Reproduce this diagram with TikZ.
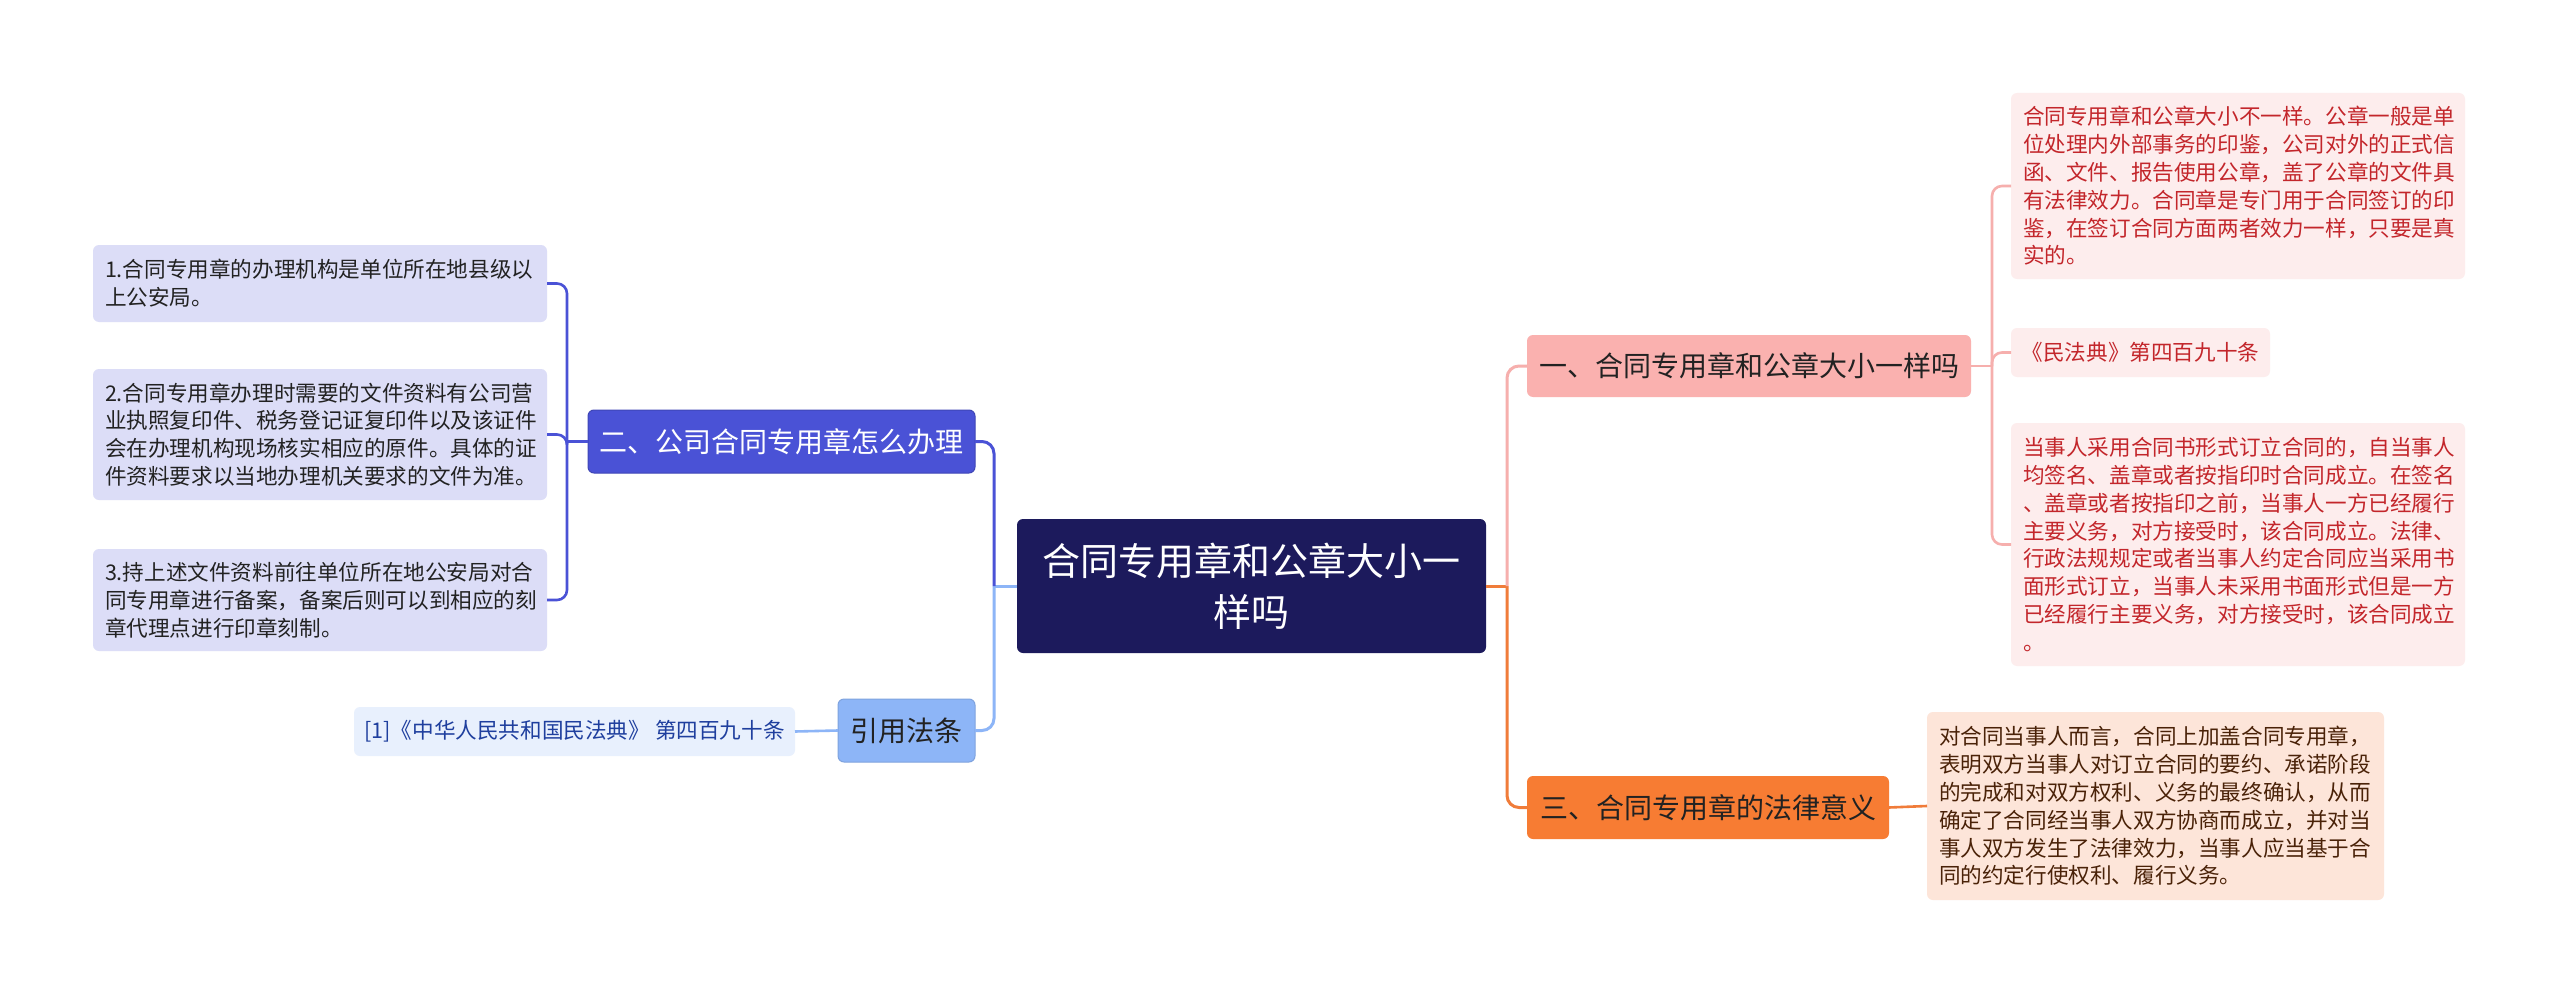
\documentclass[tikz,border=0pt]{standalone}
\usepackage{fontspec}
\setmainfont{Noto Sans CJK SC}
\definecolor{cnavy}{HTML}{1C1A5C}
\definecolor{cblue}{HTML}{4A52D6}
\definecolor{cblueleaf}{HTML}{DCDDF7}
\definecolor{clight}{HTML}{8DB5F7}
\definecolor{clightleaf}{HTML}{E8F0FD}
\definecolor{clighttext}{HTML}{1F3F9E}
\definecolor{cpink}{HTML}{FAB1AF}
\definecolor{cpinkline}{HTML}{F6AFAD}
\definecolor{cpinkleaf}{HTML}{FDEDED}
\definecolor{cpinktext}{HTML}{C3262B}
\definecolor{corange}{HTML}{F77C33}
\definecolor{corangeline}{HTML}{F07C3A}
\definecolor{corangeleaf}{HTML}{FDE5D9}
\definecolor{corangetext}{HTML}{4A2208}
\definecolor{cdark}{HTML}{222222}
\begin{document}
\begin{tikzpicture}[x=0.5pt,y=-0.5pt,
  box/.style={rounded corners=3pt, inner ysep=0pt, outer sep=0pt, anchor=west},
  leaf/.style={box, font=\fontsize{10.8pt}{13.9pt}\selectfont, inner xsep=6pt, align=left},
  leafc/.style={box, font=\fontsize{10.8pt}{13.9pt}\selectfont, inner xsep=0pt, align=center},
  mainnode/.style={box, font=\fontsize{14pt}{17pt}\selectfont, inner xsep=0pt, align=center},
  bline/.style={line width=1.5pt},
  lline/.style={line width=1.3pt, rounded corners=5pt},
]
\useasboundingbox (0,0) rectangle (2560,995);
\fill[white] (0,0) rectangle (2560,995);

% center
\node[box, fill=cnavy, text=white, align=center, inner xsep=0pt,
  font=\fontsize{19pt}{25.5pt}\selectfont, minimum width=234.5pt, minimum height=67pt]
  (c) at (1017,586) {合同专用章和公章大小一\\样吗};

% level 1
\node[mainnode, fill=cblue, draw=cblue!85!black, line width=0.5pt, text=white, minimum width=193.5pt, minimum height=31.5pt]
  (n2) at (588,441.5) {二、公司合同专用章怎么办理};
\node[mainnode, fill=clight, draw=clight!90!black, line width=0.5pt, text=cdark, minimum width=68.5pt, minimum height=31.5pt]
  (ref) at (838,730.5) {引用法条};
\node[mainnode, fill=cpink, text=cdark, minimum width=222pt, minimum height=31pt]
  (n1) at (1527,366) {一、合同专用章和公章大小一样吗};
\node[mainnode, fill=corange, text=cdark, minimum width=181pt, minimum height=31.5pt]
  (n3) at (1527,807.5) {三、合同专用章的法律意义};

% left leaves
\node[leaf, fill=cblueleaf, text=cdark, text width=215pt, minimum height=38.5pt]
  (L1) at (93,283.5) {1.合同专用章的办理机构是单位所在地县级以\\上公安局。};
\node[leaf, fill=cblueleaf, text=cdark, text width=215pt, minimum height=65.5pt]
  (L2) at (93,434.5) {2.合同专用章办理时需要的文件资料有公司营\\业执照复印件、税务登记证复印件以及该证件\\会在办理机构现场核实相应的原件。具体的证\\件资料要求以当地办理机关要求的文件为准。};
\node[leaf, fill=cblueleaf, text=cdark, text width=215pt, minimum height=51pt]
  (L3) at (93,600) {3.持上述文件资料前往单位所在地公安局对合\\同专用章进行备案，备案后则可以到相应的刻\\章代理点进行印章刻制。};
\node[leafc, fill=clightleaf, text=clighttext, minimum width=220.5pt, minimum height=24.5pt]
  (RL) at (354,731.5) {[1]《中华人民共和国民法典》 第四百九十条};

% right leaves
\node[leaf, fill=cpinkleaf, text=cpinktext, text width=215pt, minimum height=93pt]
  (R1) at (2011,186) {合同专用章和公章大小不一样。公章一般是单\\位处理内外部事务的印鉴，公司对外的正式信\\函、文件、报告使用公章，盖了公章的文件具\\有法律效力。合同章是专门用于合同签订的印\\鉴，在签订合同方面两者效力一样，只要是真\\实的。};
\node[leafc, fill=cpinkleaf, text=cpinktext, minimum width=129.5pt, minimum height=24.5pt]
  (R2) at (2011,352.5) {《民法典》第四百九十条};
\node[leaf, fill=cpinkleaf, text=cpinktext, text width=215pt, minimum height=121.5pt]
  (R3) at (2011,544.5) {当事人采用合同书形式订立合同的，自当事人\\均签名、盖章或者按指印时合同成立。在签名\\、盖章或者按指印之前，当事人一方已经履行\\主要义务，对方接受时，该合同成立。法律、\\行政法规规定或者当事人约定合同应当采用书\\面形式订立，当事人未采用书面形式但是一方\\已经履行主要义务，对方接受时，该合同成立\\。};
\node[leaf, fill=corangeleaf, text=corangetext, text width=216.5pt, minimum height=94pt]
  (R4) at (1927,806) {对合同当事人而言，合同上加盖合同专用章，\\表明双方当事人对订立合同的要约、承诺阶段\\的完成和对双方权利、义务的最终确认，从而\\确定了合同经当事人双方协商而成立，并对当\\事人双方发生了法律效力，当事人应当基于合\\同的约定行使权利、履行义务。};

% junctions
\coordinate (jL) at (994,586);
\coordinate (jR) at (1507,586);
\coordinate (j2) at (567,441.5);
\coordinate (j1) at (1992,366);

% center connectors
\draw[bline, clight] (c.west) -- (jL);
\draw[bline, clight, rounded corners=6pt] (jL) |- (ref.east);
\draw[bline, cblue, rounded corners=6pt] (jL) |- (n2.east);
\draw[bline, corangeline] (c.east) -- (jR);
\draw[bline, corangeline, rounded corners=6pt] (jR) |- (n3.west);
\draw[bline, cpinkline, rounded corners=6pt] (jR) |- (n1.west);

% left leaf connectors
\draw[lline, cblue] (n2.west) -- (j2);
\draw[lline, cblue] (j2) |- (L1.east);
\draw[lline, cblue] (j2) |- (L3.east);
\draw[lline, cblue] (j2) |- (L2.east);
\draw[lline, clight] (ref.west) -- (RL.east);

% right leaf connectors
\draw[lline, cpinkline] (n1.east) -- (j1);
\draw[lline, cpinkline] (j1) |- (R1.west);
\draw[lline, cpinkline] (j1) |- (R2.west);
\draw[lline, cpinkline] (j1) |- (R3.west);
\draw[lline, corangeline] (n3.east) -- (R4.west);
\end{tikzpicture}
\end{document}
